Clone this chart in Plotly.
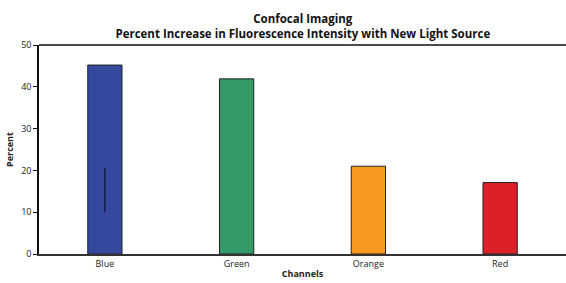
import plotly.graph_objects as go

channels = ["Blue", "Green", "Orange", "Red"]
percent = [45.2, 41.9, 21.0, 17.1]
bar_colors = ["#34489d", "#349a68", "#f7991e", "#db2028"]
line_channel = ["Blue", "Blue"]
line_values = [10.0, 20.6]

fig = go.Figure()
fig.add_trace(go.Bar(
    x=channels, y=percent, width=0.26,
    marker=dict(color=bar_colors, line=dict(color="#222222", width=1)),
    showlegend=False,
))
fig.add_trace(go.Scatter(
    x=line_channel, y=line_values, mode="lines",
    line=dict(color="#111133", width=1.2), showlegend=False,
))

fig.update_layout(
    width=566, height=283,
    margin=dict(l=39, r=0, t=45, b=29),
    plot_bgcolor="white", paper_bgcolor="white",
    font=dict(family="Open Sans, sans-serif", size=9, color="#222222"),
    title=dict(
        text="<b>Confocal Imaging</b><br><b>Percent Increase in Fluorescence Intensity with New Light Source</b>",
        x=0.535, xanchor="center", y=0.92, yanchor="top",
        font=dict(size=11.5, color="#111111"),
    ),
    xaxis=dict(
        title=dict(text="<b>Channels</b>", standoff=2, font=dict(size=9)),
        showline=True, linecolor="#333333", linewidth=2,
        ticks="", showgrid=False, range=[-0.5, 3.5],
    ),
    yaxis=dict(
        title=dict(text="<b>Percent</b>", standoff=6, font=dict(size=9)),
        range=[0, 50], dtick=10, showline=True, linecolor="#111111", linewidth=1.5,
        ticks="outside", ticklen=4, tickcolor="#111111", showgrid=False,
        mirror=False, zeroline=False,
    ),
    shapes=[dict(type="line", xref="paper", yref="paper", x0=0, x1=1, y0=1, y1=1,
                 line=dict(color="#111111", width=1.5))],
)

fig.write_html(
    "out.html",
    config={"displayModeBar": False},
    post_script="document.body.style.margin='0';document.body.style.overflow='hidden';",
)
